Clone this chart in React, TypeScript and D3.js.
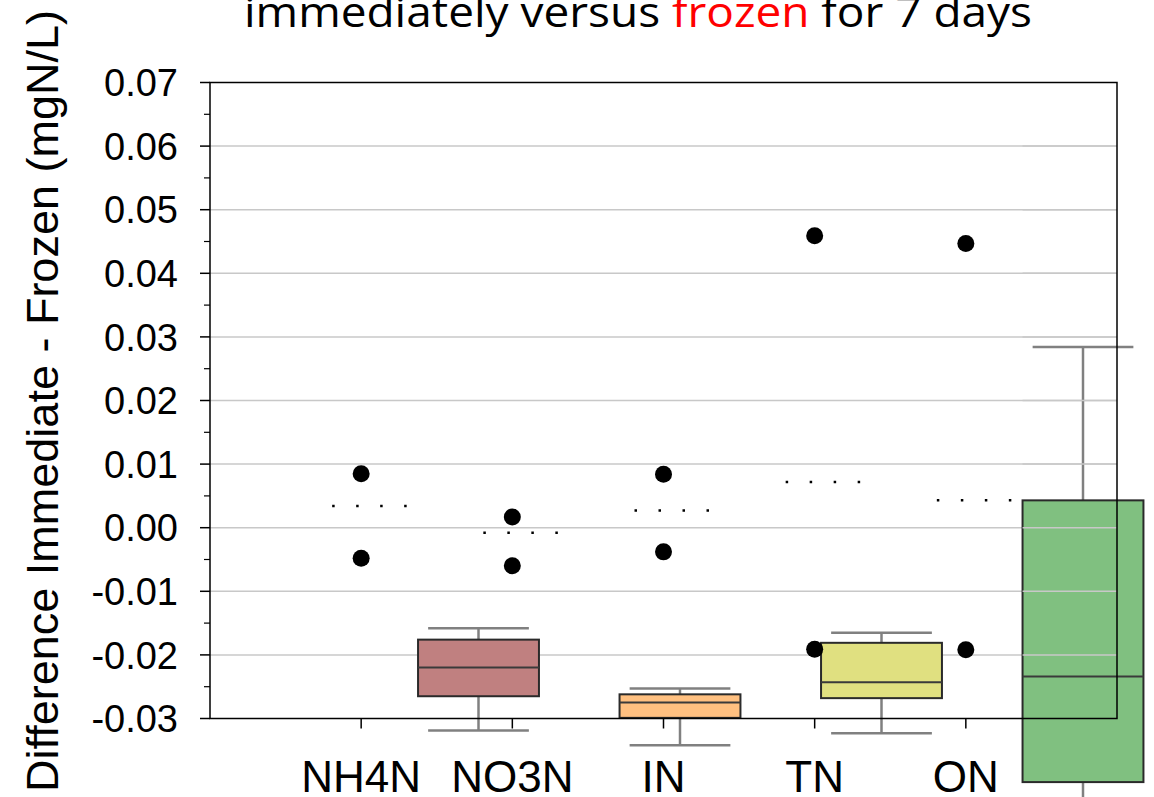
import React from "react";
import * as d3 from "d3";

// ---- data ----
const categories = ["NH4N", "NO3N", "IN", "TN", "ON"];
const yTicks = [-0.03, -0.02, -0.01, 0.0, 0.01, 0.02, 0.03, 0.04, 0.05, 0.06, 0.07];
const outlierHigh = [0.0085, 0.0017, 0.0084, 0.0459, 0.0447];
const outlierLow = [-0.0048, -0.006, -0.0038, -0.0191, -0.0192];
const meanValues = [0.0034, -0.0008, 0.0027, 0.0072, 0.0043];

// box-plot layer (drawn offset, as in the source picture)
const boxCategories = ["NO3N", "IN", "TN", "ON"];
const boxWhiskerLow = [-0.0319, -0.0342, -0.0323, -0.052];
const boxQ1 = [-0.0265, -0.0299, -0.0268, -0.04];
const boxMedian = [-0.022, -0.0275, -0.0243, -0.0234];
const boxQ3 = [-0.0176, -0.0262, -0.0181, 0.0043];
const boxWhiskerHigh = [-0.0158, -0.0253, -0.0165, 0.0284];
const boxColors = ["#c08080", "#ffc080", "#e0e080", "#80c080"];

const W = 1154;
const H = 797;
const L = 210;
const R = 1117;
const T = 82.5;
const B = 718.5;

export default function App() {
  const y = d3.scaleLinear().domain([-0.03, 0.07]).range([B, T]);
  const x = d3.scalePoint<string>().domain(categories).range([L, R]).padding(1);
  const xb = d3.scalePoint<string>().domain(categories).range([277, 1083]);
  const step = xb.step();
  const boxW = step * 0.6;
  const capW = step * 0.25;
  const minorTicks = d3.range(-0.025, 0.07, 0.01);
  const font = "'Liberation Sans', Arial, sans-serif";
  const fmt = (t: number) => d3.format(".2f")(t).replace("\u2212", "-");

  const greenIdx = boxCategories.length - 1;
  const greenLeft = (xb(boxCategories[greenIdx]) as number) - boxW / 2;

  const gridLines = (x1: number) =>
    yTicks
      .filter((t) => t > -0.03 + 1e-9 && t < 0.07 - 1e-9)
      .map((t, i) => (
        <line key={i} x1={x1} x2={R} y1={y(t)} y2={y(t)} stroke="#c8c8c8" strokeWidth={1.5} />
      ));

  return (
    <svg width={W} height={H} style={{ position: "absolute", left: 0, top: 0, background: "#fff" }}>
      <rect x={0} y={0} width={W} height={H} fill="#fff" />
      {/* title */}
      <text
        x={638}
        y={27}
        textAnchor="middle"
        fontFamily="'Open Sans', sans-serif"
        fontSize={42}
        textLength={788}
        lengthAdjust="spacingAndGlyphs"
        fill="#000"
      >
        immediately versus <tspan fill="#ff0000">frozen</tspan> for 7 days
      </text>

      {/* y label */}
      <text
        transform={`translate(58,401) rotate(-90)`}
        textAnchor="middle"
        fontFamily={font}
        fontSize={45}
        fill="#000"
      >
        Difference Immediate - Frozen (mgN/L)
      </text>

      {/* gridlines */}
      {gridLines(L)}

      {/* box layer */}
      {boxCategories.map((c, i) => {
        const cx = xb(c) as number;
        return (
          <g key={c}>
            <line x1={cx} x2={cx} y1={y(boxQ3[i])} y2={y(boxWhiskerHigh[i])} stroke="#808080" strokeWidth={2.5} />
            <line x1={cx} x2={cx} y1={y(boxQ1[i])} y2={y(boxWhiskerLow[i])} stroke="#808080" strokeWidth={2.5} />
            <line x1={cx - capW} x2={cx + capW} y1={y(boxWhiskerHigh[i])} y2={y(boxWhiskerHigh[i])} stroke="#808080" strokeWidth={2.5} />
            <line x1={cx - capW} x2={cx + capW} y1={y(boxWhiskerLow[i])} y2={y(boxWhiskerLow[i])} stroke="#808080" strokeWidth={2.5} />
            <rect
              x={cx - boxW / 2}
              y={y(boxQ3[i])}
              width={boxW}
              height={y(boxQ1[i]) - y(boxQ3[i])}
              fill={boxColors[i]}
              stroke="#2a2a2a"
              strokeWidth={2}
            />
            <line x1={cx - boxW / 2} x2={cx + boxW / 2} y1={y(boxMedian[i])} y2={y(boxMedian[i])} stroke="#3a3a3a" strokeWidth={2} />
          </g>
        );
      })}

      {/* gridlines visible through the last box */}
      {gridLines(greenLeft)}

      {/* frame */}
      <rect x={L} y={T} width={R - L} height={B - T} fill="none" stroke="#000" strokeWidth={1.5} />

      {/* y ticks */}
      {yTicks.map((t, i) => (
        <g key={i}>
          <line x1={L - 10} x2={L} y1={y(t)} y2={y(t)} stroke="#000" strokeWidth={1.5} />
          <text
            x={178}
            y={y(t)}
            dy="0.36em"
            textAnchor="end"
            fontFamily={font}
            fontSize={38}
            fill="#000"
          >
            {fmt(t)}
          </text>
        </g>
      ))}
      {minorTicks.map((t, i) => (
        <line key={i} x1={L - 6} x2={L} y1={y(t)} y2={y(t)} stroke="#000" strokeWidth={1.2} />
      ))}

      {/* x ticks & labels */}
      {categories.map((c) => (
        <g key={c}>
          <line x1={x(c)} x2={x(c)} y1={B} y2={B + 10} stroke="#000" strokeWidth={1.5} />
          <text x={x(c)} y={792} textAnchor="middle" fontFamily={font} fontSize={44} fill="#000">
            {c}
          </text>
        </g>
      ))}

      {/* mean dotted lines */}
      {categories.map((c, i) => (
        <line
          key={c}
          x1={(x(c) as number) - 29}
          x2={(x(c) as number) + 46}
          y1={y(meanValues[i])}
          y2={y(meanValues[i])}
          stroke="#000"
          strokeWidth={2.5}
          strokeDasharray="2.5 21.5"
        />
      ))}

      {/* outlier points */}
      {categories.map((c, i) => (
        <g key={c}>
          <circle cx={x(c)} cy={y(outlierHigh[i])} r={8.5} fill="#000" />
          <circle cx={x(c)} cy={y(outlierLow[i])} r={8.5} fill="#000" />
        </g>
      ))}
    </svg>
  );
}
